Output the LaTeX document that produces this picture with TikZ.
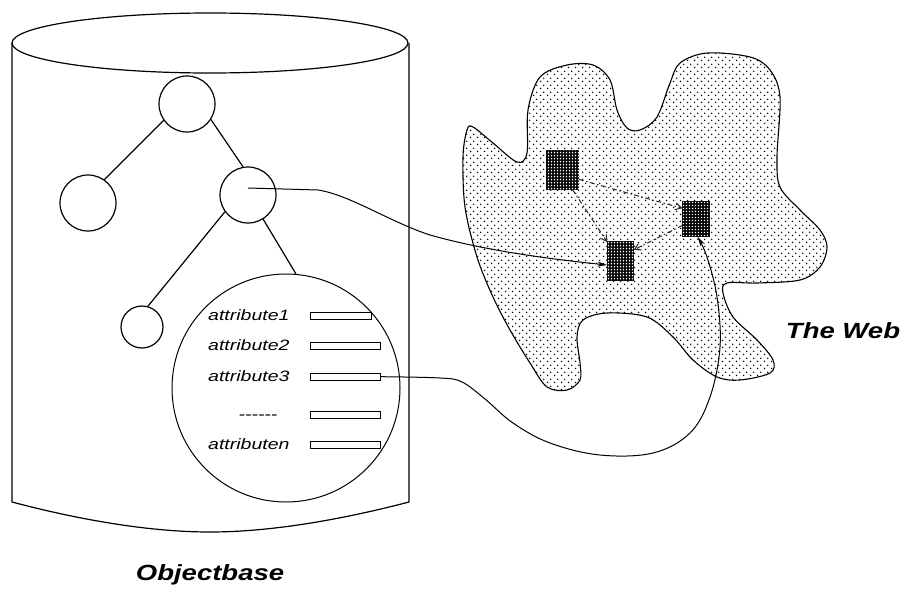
\documentclass[tikz,border=0pt]{standalone}
\usepackage{fontspec}
\setmainfont{Liberation Sans}
\usetikzlibrary{arrows.meta,patterns}
\pgfdeclarepatternformonly{sparsedots}{\pgfqpoint{0pt}{0pt}}{\pgfqpoint{6.6pt}{6.6pt}}{\pgfqpoint{6.6pt}{6.6pt}}{%
  \pgfpathcircle{\pgfqpoint{1.65pt}{1.65pt}}{0.8pt}%
  \pgfpathcircle{\pgfqpoint{4.95pt}{4.95pt}}{0.8pt}%
  \pgfusepath{fill}}
\pgfdeclarepatternformonly{holegrid}{\pgfqpoint{0pt}{0pt}}{\pgfqpoint{3.3pt}{3.3pt}}{\pgfqpoint{3.3pt}{3.3pt}}{%
  \pgfpathrectangle{\pgfqpoint{0.9pt}{0.9pt}}{\pgfqpoint{1.6pt}{1.6pt}}%
  \pgfusepath{fill}}
\tikzset{
  outline/.style={line width=1.2pt},
  treenode/.style={circle, draw, line width=1.2pt, inner sep=0pt, minimum size=#1},
  attrbox/.style={draw, fill=white, line width=1pt, inner sep=0pt, minimum height=7pt, minimum width=#1, anchor=west},
  attrtext/.style={font=\itshape\fontsize{15}{15}\selectfont, inner sep=0pt, anchor=base west},
  biglabel/.style={font=\bfseries\itshape\fontsize{22}{22}\selectfont, inner sep=0pt},
  webnode/.style={draw=black, line width=1.5pt, inner sep=0pt, fill=black},
  dasharrow/.style={draw=black!85, line width=1pt, dash pattern=on 5pt off 2.5pt on 1.5pt off 2.5pt, -{Straight Barb[length=6pt,width=7pt]}},
  linkarrow/.style={line width=1pt, -{Stealth[length=10pt,width=5pt]}}
}
\begin{document}
\begin{tikzpicture}[x=1pt,y=-1pt]
\useasboundingbox (0,0) rectangle (901,589);

% ---------- The Web blob ----------
\draw[line width=1.1pt, pattern=sparsedots] plot[smooth cycle, tension=0.55] coordinates {
 (473,127) (493,143) (517,162) (527,153) (528,110) (540,77) (567,65) (593,65) (610,80)
 (617,110) (627,128) (640,130) (657,117) (670,83) (680,63) (707,53) (750,57) (770,70)
 (780,97) (777,157) (780,187) (800,210) (820,230) (827,247) (820,267) (800,280) (757,283)
 (727,283) (723,293) (733,317) (757,340) (773,360) (770,373) (740,380) (717,377) (693,360)
 (673,337) (647,317) (607,313) (583,320) (577,337) (580,363) (580,380) (567,390) (547,387)
 (530,363) (510,330) (493,297) (477,257) (465,207) (463,157) (467,130)};

% ---------- web pages ----------
\foreach \n/\cx/\cy/\w/\h in {A/562.5/170/31/38, B/696/219/26/34, C/620.5/261/25/38}{
  \node[webnode, minimum width=\w pt, minimum height=\h pt] (\n) at (\cx,\cy) {};
  \fill[pattern=holegrid, pattern color=white] (\n.south west) rectangle (\n.north east);
}

\draw[dasharrow] (A.-30) -- (B.142);
\draw[dasharrow] (A.-63) -- (C.125);
\draw[dasharrow] (B.205) -- (C.40);

% ---------- Cylinder ----------
\draw[outline] (210,43) ellipse [x radius=198, y radius=30];
\draw[outline] (12,43) -- (12,502) .. controls (80,520) and (150,532) .. (210,532)
  .. controls (270,532) and (340,520) .. (409,502) -- (409,43);

% ---------- Tree ----------
\node[treenode=56pt] (root) at (187,104) {};
\node[treenode=56pt] (lc) at (88,203) {};
\node[treenode=56pt] (rc) at (248,195) {};
\node[treenode=42pt] (sm) at (142,327) {};
\node[treenode=228pt, line width=1pt] (big) at (286,388) {};

\draw[outline] (root.215) -- (lc.55);
\draw[outline] (root.-33) -- (rc.100);
\draw[outline] (rc.216) -- (sm.74);
\draw[outline] (rc.-58) -- (big.85);

% ---------- Attributes ----------
\node[attrtext] (t1) at (208,320) {\scalebox{1.3}[1]{attribute1}};
\node[attrtext] (t2) at (208,350) {\scalebox{1.3}[1]{attribute2}};
\node[attrtext] (t3) at (208,381) {\scalebox{1.3}[1]{attribute3}};
\node[attrtext, anchor=base] (t4) at (258,419) {\scalebox{1.3}[1]{-{}-{}-{}-{}-{}-}};
\node[attrtext] (t5) at (208,449) {\scalebox{1.3}[1]{attributen}};

\node[attrbox=61pt] (b1) at (310,315.5) {};
\node[attrbox=70pt] (b2) at (310,345.7) {};
\node[attrbox=70pt] (b3) at (310,376.7) {};
\node[attrbox=70pt] (b4) at (310,415) {};
\node[attrbox=70pt] (b5) at (310,445) {};

% ---------- Links ----------
\coordinate (s1) at (248,188);
\draw[linkarrow] (s1) -- (318,190) .. controls (350,195) and (390,222) .. (430,235)
  .. controls (490,252) and (560,260) .. (C.197);
\draw[linkarrow] plot[smooth, tension=0.6] coordinates {(b3.east) (440,378) (462,382)
  (485,399) (513,423) (550,443) (600,455) (653,453) (690,433) (710,397) (720,347)
  (717,297) (707,257) (B.-85)};

% ---------- Labels ----------
\node[biglabel, anchor=base] (objlabel) at (210,580) {\scalebox{1.25}[1]{Objectbase}};
\node[biglabel, anchor=base] (weblabel) at (843,338) {\scalebox{1.25}[1]{The Web}};
\end{tikzpicture}
\end{document}
